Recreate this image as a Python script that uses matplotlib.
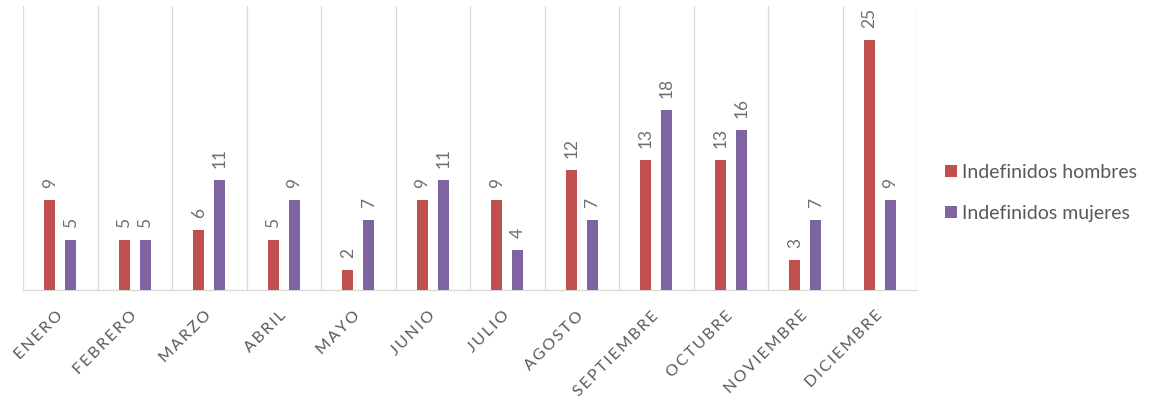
import matplotlib
matplotlib.use("Agg")
import matplotlib.pyplot as plt
import numpy as np

months = ["ENERO", "FEBRERO", "MARZO", "ABRIL", "MAYO", "JUNIO", "JULIO",
          "AGOSTO", "SEPTIEMBRE", "OCTUBRE", "NOVIEMBRE", "DICIEMBRE"]
hombres = [9, 5, 6, 5, 2, 9, 9, 12, 13, 13, 3, 25]
mujeres = [5, 5, 11, 9, 7, 11, 4, 7, 18, 16, 7, 9]
series_names = ["Indefinidos hombres", "Indefinidos mujeres"]

RED = "#C0504D"
PURPLE = "#8064A2"
TEXT = "#595959"

plt.rcParams["font.family"] = ["Lato", "DejaVu Sans"]

fig = plt.figure(figsize=(11.53, 4.08), dpi=100)
ax = fig.add_axes([23 / 1153, 1 - 290 / 408, (917 - 23) / 1153, 284 / 408])

x = np.arange(len(months))
w = 0.15
off = 0.14
b1 = ax.bar(x - off, hombres, w, color=RED, label=series_names[0], zorder=3)
b2 = ax.bar(x + off, mujeres, w, color=PURPLE, label=series_names[1], zorder=3)

for bars in (b1, b2):
    ax.bar_label(bars, padding=9, rotation=90, color="#6E6E6E", fontsize=12.5)

ax.set_xlim(-0.5, len(months) - 0.5)
ax.set_ylim(0, 28.4)

# category separators
ax.set_xticks(np.arange(-0.5, len(months), 1.0), minor=True)
ax.grid(which="minor", axis="x", color="#D9D9D9", linewidth=0.9, zorder=0)
ax.tick_params(which="both", length=0)

# month names drawn letter-spaced
spaced = ["\u2009".join(m) for m in months]
ax.set_xticks(x)
ax.set_xticklabels(spaced, rotation=45, ha="right", va="center",
                   rotation_mode="anchor", color=TEXT, fontsize=11.5)
ax.tick_params(axis="x", pad=17)
ax.set_yticks([])

for side in ("top", "right", "left"):
    ax.spines[side].set_visible(False)
ax.spines["bottom"].set_color("#D9D9D9")
ax.spines["bottom"].set_linewidth(0.9)

fig.legend(handles=[b1, b2], labels=series_names, loc="center left",
           bbox_to_anchor=(945 / 1153, 1 - 193 / 408), frameon=False,
           borderpad=0, borderaxespad=0,
           fontsize=14, handlelength=0.6, handleheight=0.6,
           handletextpad=0.25, labelspacing=1.25, labelcolor=TEXT)

fig.savefig("out.png", dpi=100, facecolor="white")
